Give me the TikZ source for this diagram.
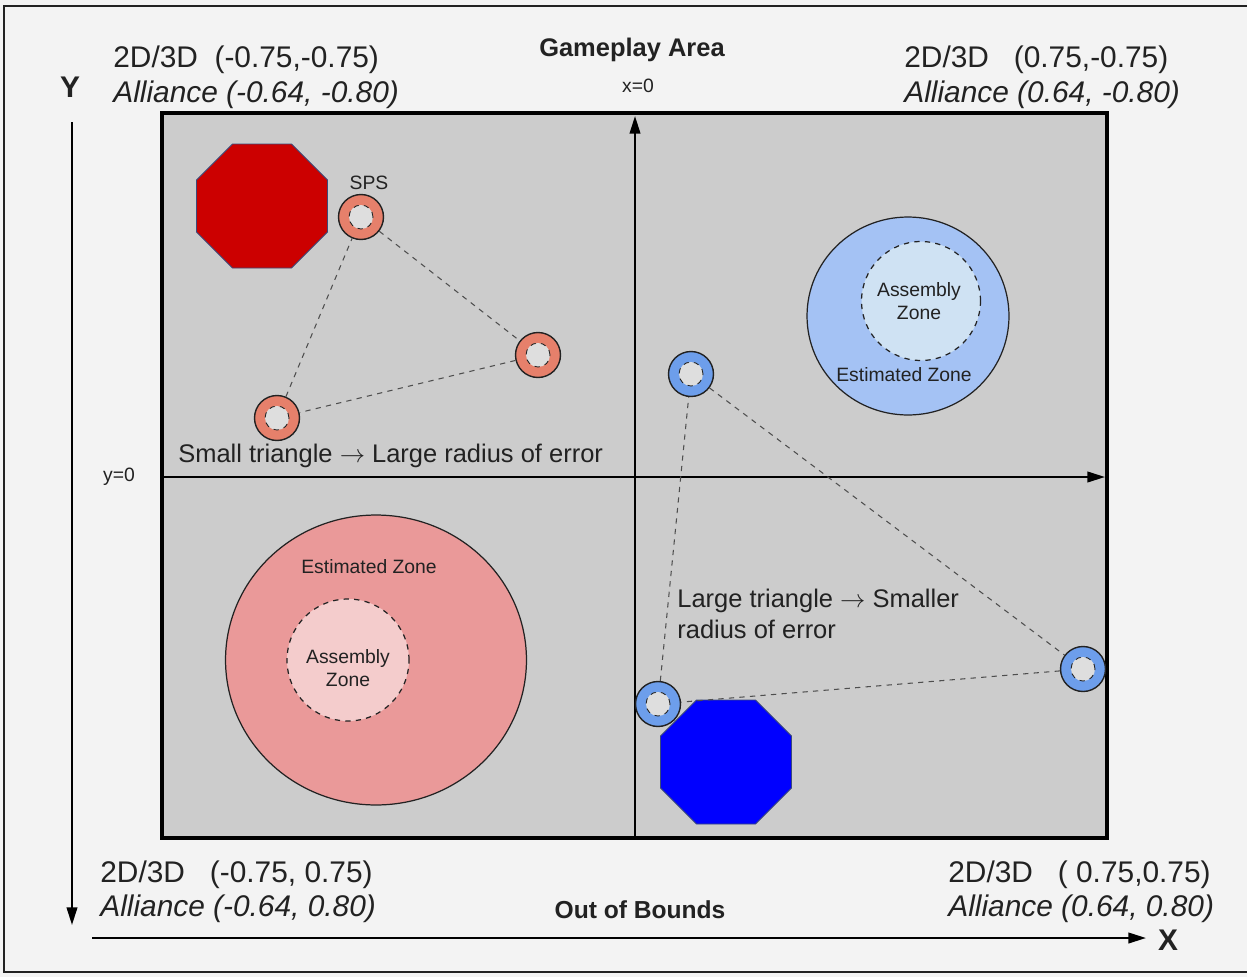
\documentclass[tikz,border=0pt]{standalone}
\usepackage{fontspec}
\setmainfont{Liberation Sans}
\usetikzlibrary{arrows.meta,shapes.geometric}
\definecolor{pagegray}{HTML}{F3F3F3}
\definecolor{fieldgray}{HTML}{CCCCCC}
\definecolor{redbot}{HTML}{CC0000}
\definecolor{bluebot}{HTML}{0000FF}
\definecolor{botedge}{HTML}{3B4A7A}
\definecolor{redsps}{HTML}{E6806B}
\definecolor{bluesps}{HTML}{6D9EEB}
\definecolor{spsin}{HTML}{DEDEDE}
\definecolor{redzone}{HTML}{EA9999}
\definecolor{redcore}{HTML}{F4CCCC}
\definecolor{bluezone}{HTML}{A4C2F4}
\definecolor{bluecore}{HTML}{CFE2F3}
\definecolor{ink}{HTML}{222222}
\tikzset{
	sps/.style={circle,draw=ink,line width=.8pt,minimum size=.9cm,inner sep=0pt},
	spscore/.style={circle,draw=ink,dashed,line width=.5pt,fill=spsin,minimum size=.48cm,inner sep=0pt},
	link/.style={draw=ink!80,dashed,line width=.6pt},
	zone/.style={ellipse,draw=ink,line width=.7pt,inner sep=0pt},
	core/.style={circle,draw=ink,dashed,line width=.7pt,inner sep=0pt},
	corner/.style={anchor=north west,align=left,inner sep=0pt,text=ink,font=\fontsize{17}{19.8}\selectfont},
	note/.style={anchor=base west,inner sep=0pt,text=ink,font=\fontsize{14.5}{17.3}\selectfont},
	small/.style={inner sep=0pt,text=ink,align=center,font=\fontsize{11}{13}\selectfont},
	axis/.style={line width=1.2pt,-{Triangle[length=10pt,width=6pt]}}
}
\begin{document}
\begin{tikzpicture}[x=.02cm,y=-.02cm]
	\useasboundingbox (0,0) rectangle (1247,977);
	\fill[pagegray] (0,0) rectangle (1247,977);
	\draw[line width=1.6pt,ink] (1247,6) -| (4,972) -- (1247,972);
	% field and axes
	\draw[fill=fieldgray,line width=2.2pt] (162,113) rectangle (1107,838);
	\coordinate (ybot) at (635,838); \coordinate (ytop) at (635,116);
	\coordinate (xleft) at (162,477); \coordinate (xright) at (1105,477);
	\draw[axis] (ybot) -- (ytop);
	\draw[axis] (xleft) -- (xright);
	\coordinate (Ys) at (72,122); \coordinate (Ye) at (72,925);
	\coordinate (Xs) at (92,938); \coordinate (Xe) at (1146,938);
	\draw[axis] (Ys) -- (Ye);
	\draw[axis] (Xs) -- (Xe);
	\node[font=\fontsize{17}{20}\bfseries,text=ink] (Ylab) at (70,87) {Y};
	\node[font=\fontsize{17}{20}\bfseries,text=ink] (Xlab) at (1168,940) {X};
	% zones
	\node[zone,fill=redzone,minimum width=6.02cm,minimum height=5.8cm] (redest) at (376,660) {};
	\node[core,fill=redcore,minimum size=2.44cm] (redasm) at (348,660) {};
	\node[small] (redasmlab) at (348,668) {Assembly\\Zone};
	\node[small] (redestlab) at (369,567) {Estimated Zone};
	\node[zone,fill=bluezone,minimum width=4.04cm,minimum height=3.96cm] (blueest) at (908,316) {};
	\node[core,fill=bluecore,minimum size=2.38cm] (blueasm) at (921,301) {};
	\node[small] (blueasmlab) at (919,301) {Assembly\\Zone};
	\node[small] (blueestlab) at (904,375) {Estimated Zone};
	% robots
	\foreach \c/\x/\y in {redbot/262/206, bluebot/726/762}
		\draw[fill=\c,draw=botedge,line width=.5pt] (\x,\y) ++(-29.5,-62) -- ++(59,0) -- ++(36,36)
			-- ++(0,52) -- ++(-36,36) -- ++(-59,0) -- ++(-36,-36) -- ++(0,-52) -- cycle;
	% beacons
	\foreach \n/\x/\y/\c in {a/361/217/redsps, b/538/355/redsps, c/277/418/redsps,
		d/691/374/bluesps, e/1083/669/bluesps, f/658/704/bluesps} {
		\node[sps,fill=\c] (\n) at (\x,\y) {};
		\node[spscore] (\n core) at (\n) {};
	}
	\foreach \p/\q in {a/b, b/c, c/a, d/e, e/f, f/d}
		\draw[link] (\p) -- (\q);
	\node[small,anchor=south] (spslab) at (369,190) {SPS};
	% labels
	\node[note] (smalltri) at (178,462) {Small triangle $\rightarrow$ Large radius of error};
	\node[note,anchor=north west,align=left] (largetri) at (677,589) {Large triangle $\rightarrow$ Smaller\\radius of error};
	\node[font=\fontsize{14.5}{16}\bfseries,text=ink] (gamearea) at (632,50) {Gameplay Area};
	\node[small] (xzero) at (638,86) {x=0};
	\node[small] (yzero) at (119,477) {y=0};
	\node[font=\fontsize{14}{16}\bfseries,text=ink] (oob) at (640,910) {Out of Bounds};
	\node[corner] (tl) at (113,46) {2D/3D\ \ (-0.75,-0.75)\\\textit{Alliance (-0.64, -0.80)}};
	\node[corner] (tr) at (904,46) {2D/3D\ \ \ (0.75,-0.75)\\\textit{Alliance (0.64, -0.80)}};
	\node[corner] (bl) at (100,860) {2D/3D\ \ \ (-0.75, 0.75)\\\textit{Alliance (-0.64, 0.80)}};
	\node[corner] (br) at (948,860) {2D/3D\ \ \ ( 0.75,0.75)\\\textit{Alliance (0.64, 0.80)}};
\end{tikzpicture}
\end{document}
